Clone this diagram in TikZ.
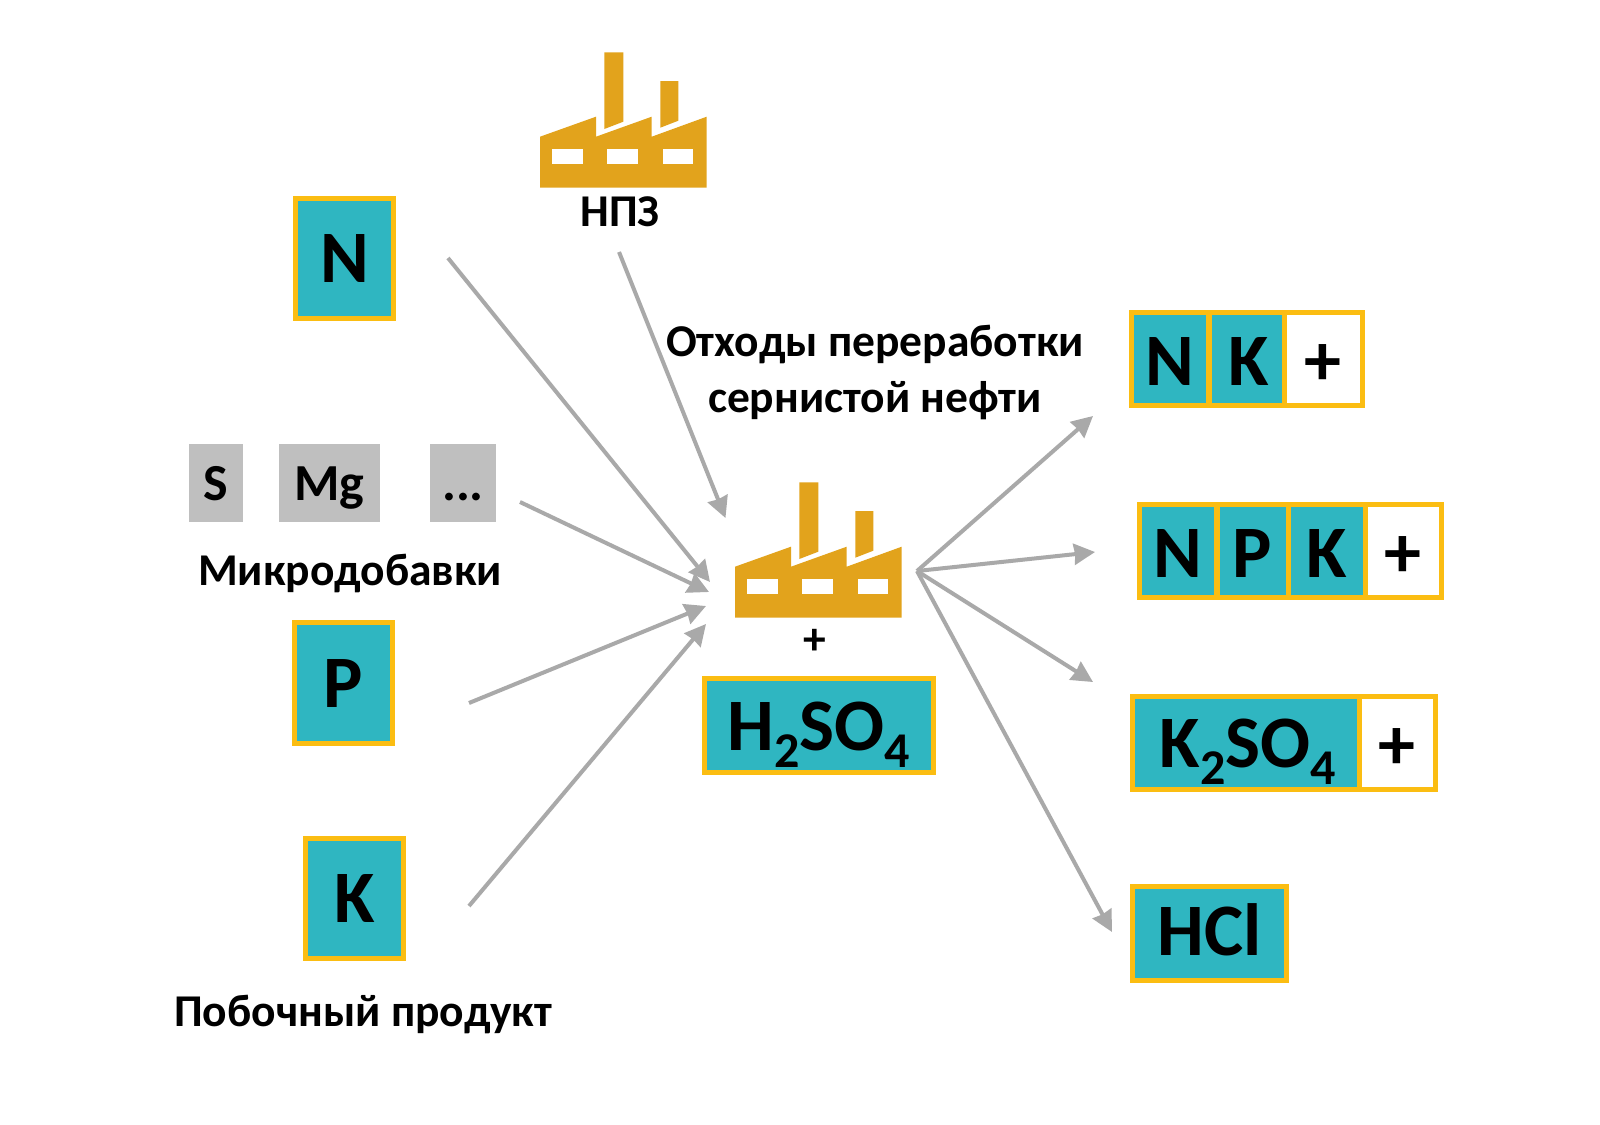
\documentclass[tikz,border=0pt]{standalone}
\usepackage{fontspec}
\setmainfont{Carlito}
\usetikzlibrary{arrows.meta}
\definecolor{teal1}{HTML}{2FB6C1}
\definecolor{gold1}{HTML}{FBBD12}
\definecolor{fact1}{HTML}{E2A31C}
\definecolor{arr1}{HTML}{A9A9A9}
\definecolor{grey1}{HTML}{BFBFBF}
\newcommand{\fsz}[1]{\fontsize{#1}{#1}\selectfont\bfseries}
\newcommand{\drp}[1]{\raisebox{-17pt}{\fontsize{50}{50}\selectfont #1}}
\newcommand{\factory}[2]{%
 \begin{scope}[shift={(#1,#2)}]
  \fill[fact1] (0,0) -- (0,-51) -- (56,-71) -- (56,-51) -- (111.7,-71) -- (111.7,-51) -- (166.7,-71) -- (166.7,0) -- cycle;
  \fill[fact1] (64.3,-58.7) -- (64.3,-135.3) -- (83.3,-135.3) -- (83.3,-66) -- cycle;
  \fill[fact1] (120.3,-60) -- (120.3,-106.7) -- (138.3,-106.7) -- (138.3,-67) -- cycle;
  \fill[white] (12.3,-38.7) rectangle (42.7,-23.7);
  \fill[white] (67.3,-38.7) rectangle (97.7,-23.7);
  \fill[white] (122.7,-38.7) rectangle (152.7,-23.7);
 \end{scope}}
\tikzset{
 x=1pt,y=-1pt,
 cellbox/.style={draw=gold1,line width=5pt,fill=teal1,inner sep=0pt,outer sep=0pt,text=black,font=\fsz{74},text height=48pt,text depth=0pt},
 rowcell/.style={cellbox,text height=52pt},
 plusbox/.style={cellbox,fill=white,text height=52pt},
 greybox/.style={fill=grey1,inner sep=0pt,outer sep=0pt,text=black,font=\fsz{52},text height=34pt,text depth=0pt},
 lab/.style={inner sep=0pt,text=black,font=\fsz{45.5},align=center},
 flow/.style={draw=arr1,line width=4pt,-{Stealth[length=21pt,width=21pt,inset=1pt]}},
}
\begin{document}
\begin{tikzpicture}
\useasboundingbox (0,0) rectangle (1600,1124);
\fill[white] (0,0) rectangle (1600,1124);
\factory{540}{187.7}
\factory{735}{617.7}
\node[lab] (npz) at (620,212) {НПЗ};
\node[lab] (waste) at (875,372.5) {Отходы переработки\\[10pt]сернистой нефти};
\node[lab] (micro) at (350,573) {Микродобавки};
\node[lab] (byprod) at (363,1014) {Побочный продукт};
\node[lab] (plus) at (815,642) {+};
% inputs
\node[cellbox,minimum width=98pt,minimum height=120pt] (N) at (344.5,258.5) {N};
\node[cellbox,minimum width=98pt,minimum height=121pt] (P) at (343.5,683) {P};
\node[cellbox,minimum width=98pt,minimum height=120pt] (K) at (354.5,898.5) {K};
\node[greybox,minimum width=54pt,minimum height=78pt] (S) at (216,483) {S};
\node[greybox,minimum width=101pt,minimum height=78pt] (Mg) at (329.5,483) {Mg};
\node[greybox,minimum width=66pt,minimum height=78pt] (dots) at (463,483) {...};
\node[cellbox,text height=49pt,minimum width=229pt,minimum height=94pt] (acid) at (819,725.5) {H\drp{2}SO\drp{4}};
% NK+
\node[plusbox,minimum width=78pt,minimum height=93pt] (nkp) at (1323,359) {+};
\node[rowcell,minimum width=77pt,minimum height=93pt] (nk1) at (1170,359) {N};
\node[rowcell,minimum width=75pt,minimum height=93pt] (nk2) at (1246.5,359) {\hspace*{5pt}K};
% NPK+
\node[plusbox,minimum width=76pt,minimum height=93pt] (npkp) at (1403,551) {+};
\node[rowcell,minimum width=77pt,minimum height=93pt] (npk1) at (1177.5,551) {N};
\node[rowcell,minimum width=71pt,minimum height=93pt] (npk2) at (1252.5,551) {P};
\node[rowcell,minimum width=77pt,minimum height=93pt] (npk3) at (1326.5,551) {K};
% K2SO4+
\node[plusbox,minimum width=76pt,minimum height=93pt] (ksp) at (1397,743) {+};
\node[cellbox,text height=49pt,minimum width=227pt,minimum height=93pt] (ks) at (1246,743) {\hspace*{4pt}K\drp{2}SO\drp{4}};
% HCl
\node[cellbox,text height=44pt,minimum width=154pt,minimum height=94pt] (hcl) at (1209.5,933) {HCl};
% connector ends
\coordinate (nS) at (448,258);   \coordinate (nE) at (710,582);
\coordinate (rS) at (619,252);   \coordinate (rE) at (725.5,518);
\coordinate (mS) at (520,502);   \coordinate (mE) at (709,592);
\coordinate (pS) at (469,703);   \coordinate (pE) at (706,606);
\coordinate (kS) at (469,906);   \coordinate (kE) at (706,624);
\coordinate (hub) at (917,571);
\coordinate (o1) at (1093,416);
\coordinate (o2) at (1095,552);
\coordinate (o3) at (1093,682);
\coordinate (o4) at (1112,932);
\draw[flow] (nS) -- (nE);
\draw[flow] (rS) -- (rE);
\draw[flow] (mS) -- (mE);
\draw[flow] (pS) -- (pE);
\draw[flow] (kS) -- (kE);
\draw[flow] (hub) -- (o1);
\draw[flow] (hub) -- (o2);
\draw[flow] (hub) -- (o3);
\draw[flow] (hub) -- (o4);
\end{tikzpicture}
\end{document}
